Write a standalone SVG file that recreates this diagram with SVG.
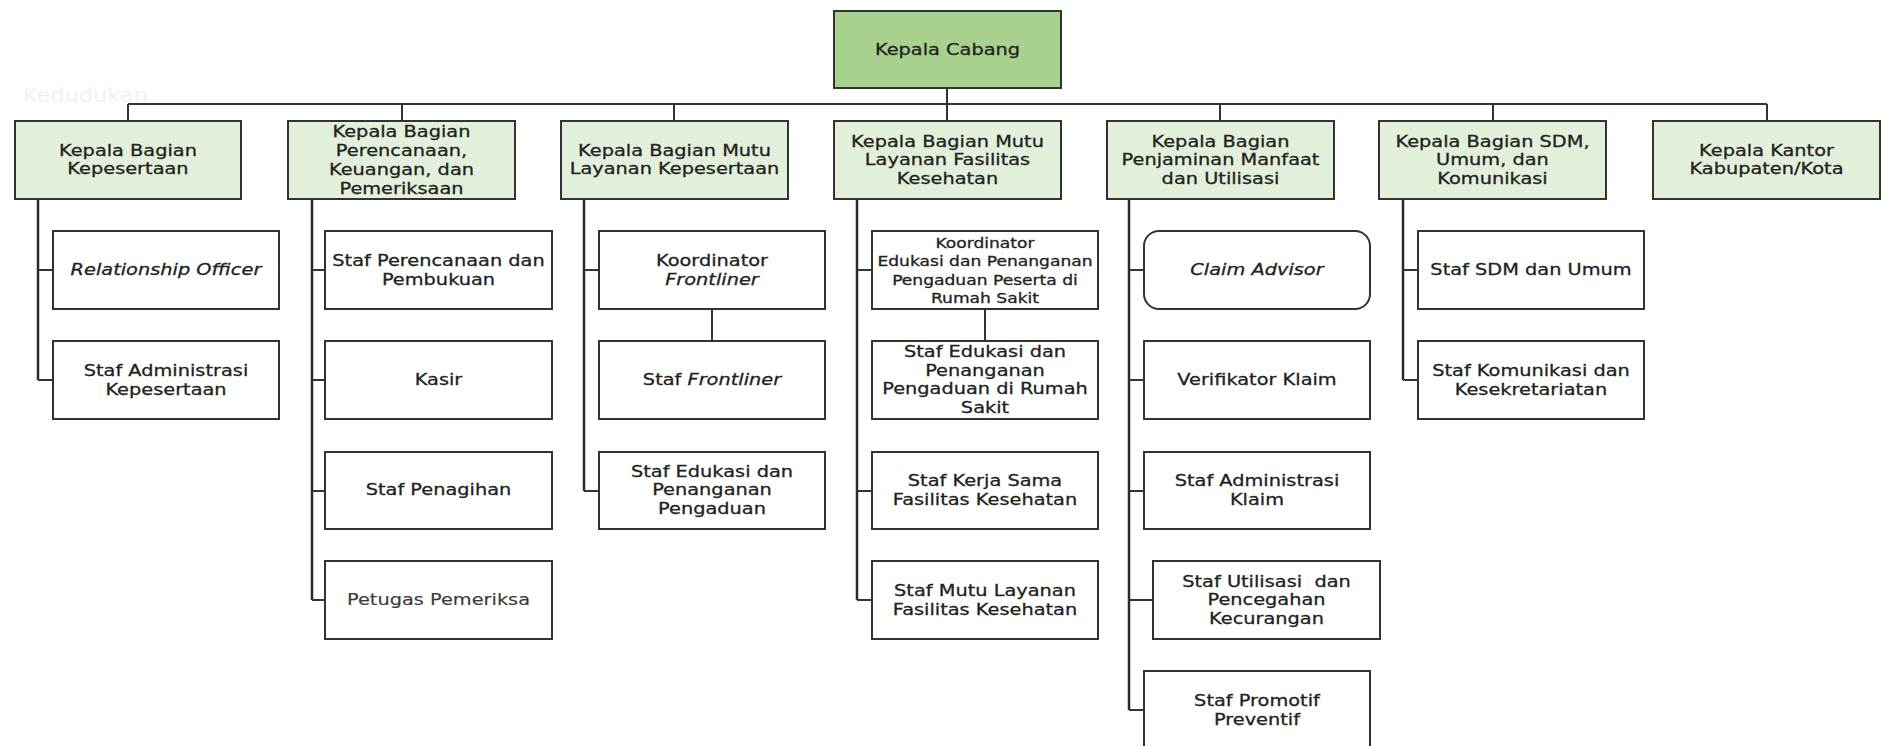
<svg xmlns="http://www.w3.org/2000/svg" width="1881" height="746" viewBox="0 0 1881 746">
<style>
.box{fill:#ffffff;stroke:#333333;stroke-width:2}
.head{fill:#e2efda;stroke:#333333;stroke-width:2}
.top{fill:#a9d18e;stroke:#333333;stroke-width:2}
.ln{fill:none;stroke:#333333;stroke-width:2}
.tr{fill:none;stroke:#2a2a2a;stroke-width:2.5}
text{font-family:"DejaVu Sans","Liberation Sans",sans-serif;font-size:16.4px;fill:#222222;stroke:#222222;stroke-width:0.3;text-anchor:middle}
.sm{font-size:14.5px}
.it{font-style:italic}
.faint{fill:#f1f1f1;stroke:none;text-anchor:start;font-size:19px}
</style>
<rect width="1881" height="746" fill="#ffffff"/>
<g transform="scale(1.18,1)"><text class="faint" x="19.5" y="102">Kedudukan</text></g>

<g id="connectors">
<path class="ln" d="M947,88V104M128,104H1767M128,104V121M402,104V121M674,104V121M947,104V121M1220,104V121M1493,104V121M1767,104V121"/>
<path class="tr" d="M38,199V380M312,199V600M584,199V491M857,199V600M1129,199V710M1403,199V380"/>
<path class="ln" d="M38,270H53M38,380H53M312,270H325M312,380H325M312,491H325M312,600H325M584,270H599M584,491H599M857,270H872M857,491H872M857,600H872M1129,270H1144M1129,380H1144M1129,491H1144M1129,600H1153M1129,710H1144M1403,270H1418M1403,380H1418M712,309V341M985,309V341"/>
</g>

<g id="kepala-cabang"><rect class="top" x="834" y="11" width="227" height="77"/></g>
<g id="kb-kepesertaan"><rect class="head" x="15" y="121" width="226" height="78"/></g>
<g id="kb-perencanaan"><rect class="head" x="288" y="121" width="227" height="78"/></g>
<g id="kb-mutu-kepesertaan"><rect class="head" x="561" y="121" width="227" height="78"/></g>
<g id="kb-mutu-faskes"><rect class="head" x="834" y="121" width="227" height="78"/></g>
<g id="kb-penjaminan"><rect class="head" x="1107" y="121" width="227" height="78"/></g>
<g id="kb-sdm"><rect class="head" x="1379" y="121" width="227" height="78"/></g>
<g id="kk-kabkota"><rect class="head" x="1653" y="121" width="227" height="78"/></g>

<g id="relationship-officer"><rect class="box" x="53" y="231" width="226" height="78"/></g>
<g id="staf-adm-kepesertaan"><rect class="box" x="53" y="341" width="226" height="78"/></g>
<g id="staf-perencanaan"><rect class="box" x="325" y="231" width="227" height="78"/></g>
<g id="kasir"><rect class="box" x="325" y="341" width="227" height="78"/></g>
<g id="staf-penagihan"><rect class="box" x="325" y="452" width="227" height="77"/></g>
<g id="petugas-pemeriksa"><rect class="box" x="325" y="561" width="227" height="78"/></g>
<g id="koord-frontliner"><rect class="box" x="599" y="231" width="226" height="78"/></g>
<g id="staf-frontliner"><rect class="box" x="599" y="341" width="226" height="78"/></g>
<g id="staf-edukasi"><rect class="box" x="599" y="452" width="226" height="77"/></g>
<g id="koord-edukasi-rs"><rect class="box" x="872" y="231" width="226" height="78"/></g>
<g id="staf-edukasi-rs"><rect class="box" x="872" y="341" width="226" height="78"/></g>
<g id="staf-kerjasama"><rect class="box" x="872" y="452" width="226" height="77"/></g>
<g id="staf-mutu-faskes"><rect class="box" x="872" y="561" width="226" height="78"/></g>
<g id="claim-advisor"><rect class="box" x="1144" y="231" width="226" height="78" rx="15" ry="15"/></g>
<g id="verifikator"><rect class="box" x="1144" y="341" width="226" height="78"/></g>
<g id="staf-adm-klaim"><rect class="box" x="1144" y="452" width="226" height="77"/></g>
<g id="staf-utilisasi"><rect class="box" x="1153" y="561" width="227" height="78"/></g>
<g id="staf-promotif"><rect class="box" x="1144" y="671" width="226" height="80"/></g>
<g id="staf-sdm"><rect class="box" x="1418" y="231" width="226" height="78"/></g>
<g id="staf-komunikasi"><rect class="box" x="1418" y="341" width="226" height="78"/></g>

<g id="labels" transform="scale(1.18,1)">
<text x="802.97" y="55">Kepala Cabang</text>
<text x="108.47" y="155.6">Kepala Bagian</text>
<text x="108.47" y="174.3">Kepesertaan</text>
<text x="340.25" y="137.45">Kepala Bagian</text>
<text x="340.25" y="156.15">Perencanaan,</text>
<text x="340.25" y="174.85">Keuangan, dan</text>
<text x="340.25" y="193.55">Pemeriksaan</text>
<text x="571.61" y="155.6">Kepala Bagian Mutu</text>
<text x="571.61" y="174.3">Layanan Kepesertaan</text>
<text x="802.97" y="146.8">Kepala Bagian Mutu</text>
<text x="802.97" y="165.5">Layanan Fasilitas</text>
<text x="802.97" y="184.2">Kesehatan</text>
<text x="1034.32" y="146.8">Kepala Bagian</text>
<text x="1034.32" y="165.5">Penjaminan Manfaat</text>
<text x="1034.32" y="184.2">dan Utilisasi</text>
<text x="1264.83" y="146.8">Kepala Bagian SDM,</text>
<text x="1264.83" y="165.5">Umum, dan</text>
<text x="1264.83" y="184.2">Komunikasi</text>
<text x="1497.03" y="155.6">Kepala Kantor</text>
<text x="1497.03" y="174.3">Kabupaten/Kota</text>

<text class="it" x="140.68" y="275.5">Relationship Officer</text>
<text x="140.68" y="376.15">Staf Administrasi</text>
<text x="140.68" y="394.85">Kepesertaan</text>

<text x="371.61" y="266.15">Staf Perencanaan dan</text>
<text x="371.61" y="284.85">Pembukuan</text>
<text x="371.61" y="385.5">Kasir</text>
<text x="371.61" y="495.5">Staf Penagihan</text>
<text x="371.61" y="605.5" style="fill:#3a3a3a;stroke:#3a3a3a;stroke-width:0.15">Petugas Pemeriksa</text>

<text x="603.39" y="266.15">Koordinator</text>
<text class="it" x="603.39" y="284.85">Frontliner</text>
<text x="603.39" y="385.5">Staf <tspan class="it">Frontliner</tspan></text>
<text x="603.39" y="476.8">Staf Edukasi dan</text>
<text x="603.39" y="495.5">Penanganan</text>
<text x="603.39" y="514.2">Pengaduan</text>

<text class="sm" x="834.75" y="248.3">Koordinator</text>
<text class="sm" x="834.75" y="266.5">Edukasi dan Penanganan</text>
<text class="sm" x="834.75" y="284.7">Pengaduan Peserta di</text>
<text class="sm" x="834.75" y="302.8">Rumah Sakit</text>
<text x="834.75" y="357">Staf Edukasi dan</text>
<text x="834.75" y="375.7">Penanganan</text>
<text x="834.75" y="394.4">Pengaduan di Rumah</text>
<text x="834.75" y="413.1">Sakit</text>
<text x="834.75" y="486.2">Staf Kerja Sama</text>
<text x="834.75" y="504.9">Fasilitas Kesehatan</text>
<text x="834.75" y="596.15">Staf Mutu Layanan</text>
<text x="834.75" y="614.85">Fasilitas Kesehatan</text>

<text class="it" x="1065.25" y="275.5">Claim Advisor</text>
<text x="1065.25" y="385.5">Verifikator Klaim</text>
<text x="1065.25" y="486.2">Staf Administrasi</text>
<text x="1065.25" y="504.9">Klaim</text>
<text x="1073.31" y="586.8">Staf Utilisasi&#160; dan</text>
<text x="1073.31" y="605.5">Pencegahan</text>
<text x="1073.31" y="624.2">Kecurangan</text>
<text x="1065.25" y="706.15">Staf Promotif</text>
<text x="1065.25" y="724.85">Preventif</text>

<text x="1297.46" y="275.5">Staf SDM dan Umum</text>
<text x="1297.46" y="376.15">Staf Komunikasi dan</text>
<text x="1297.46" y="394.85">Kesekretariatan</text>
</g>
</svg>
